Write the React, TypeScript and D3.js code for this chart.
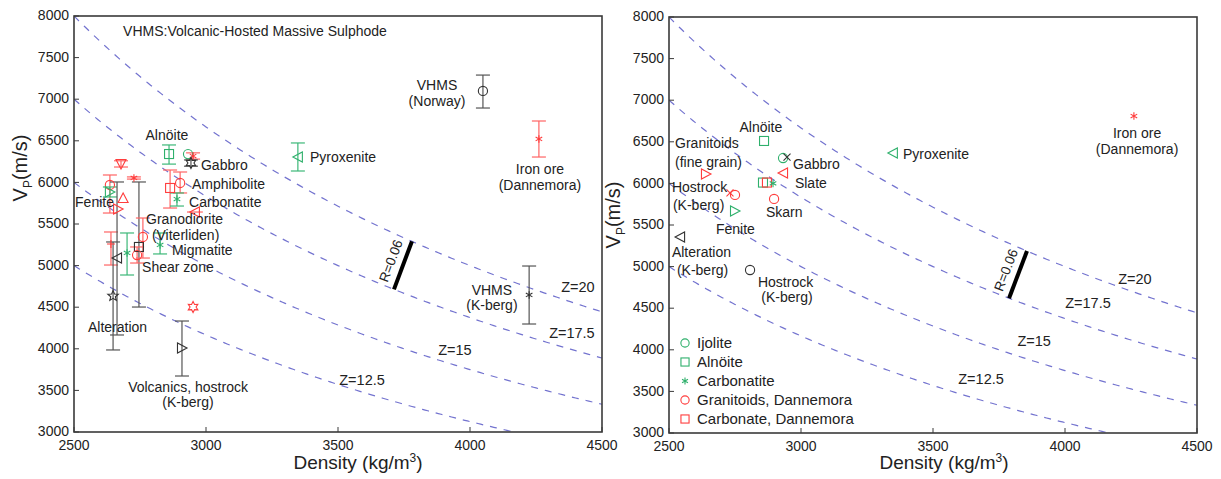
import React from "react";
import * as d3 from "d3";

const DENSITY_DOMAIN: [number, number] = [2500, 4500];
const VP_DOMAIN: [number, number] = [3000, 8000];
const xTicks = [2500, 3000, 3500, 4000, 4500];
const yTicks = [3000, 3500, 4000, 4500, 5000, 5500, 6000, 6500, 7000, 7500, 8000];
const zValues = [12.5, 15, 17.5, 20];

type Sample = { rho: number; vp: number; lo?: number; hi?: number; rhoErr?: number; group: string; marker: string };

// Left panel: laboratory / field samples with Vp error ranges
const leftSamples: Sample[] = [
  { rho: 2860, vp: 6341, lo: 6220, hi: 6450, group: "green", marker: "square" },
  { rho: 2932, vp: 6340, group: "green", marker: "circle" },
  { rho: 2951, vp: 6317, lo: 6280, hi: 6355, group: "red", marker: "asterisk" },
  { rho: 2943, vp: 6233, lo: 6195, hi: 6270, group: "black", marker: "hexagram" },
  { rho: 2902, vp: 5993, lo: 5873, hi: 6125, group: "red", marker: "circle" },
  { rho: 2864, vp: 5933, lo: 5692, hi: 6149, group: "red", marker: "square" },
  { rho: 2890, vp: 5800, lo: 5716, hi: 5873, group: "green", marker: "asterisk" },
  { rho: 2958, vp: 5644, rhoErr: 30, group: "red", marker: "triL" },
  { rho: 3348, vp: 6305, lo: 6137, hi: 6474, group: "green", marker: "triL" },
  { rho: 2678, vp: 6221, lo: 6185, hi: 6260, group: "red", marker: "triD" },
  { rho: 2727, vp: 6053, lo: 6040, hi: 6066, group: "red", marker: "asterisk" },
  { rho: 2636, vp: 5969, lo: 5632, hi: 6089, group: "red", marker: "circle" },
  { rho: 2636, vp: 5885, lo: 5825, hi: 5945, group: "green", marker: "triR" },
  { rho: 2686, vp: 5813, group: "red", marker: "triU" },
  { rho: 2667, vp: 5680, group: "red", marker: "triR" },
  { rho: 2640, vp: 5260, lo: 5007, hi: 5404, group: "red", marker: "plus" },
  { rho: 2663, vp: 5091, lo: 4166, hi: 6005, group: "black", marker: "triL" },
  { rho: 2648, vp: 4635, lo: 3986, hi: 5284, group: "black", marker: "pentagram" },
  { rho: 2746, vp: 5224, lo: 4502, hi: 6005, group: "black", marker: "square" },
  { rho: 2761, vp: 5344, lo: 5091, hi: 5572, group: "red", marker: "circle" },
  { rho: 2739, vp: 5127, lo: 5031, hi: 5224, group: "red", marker: "circle" },
  { rho: 2701, vp: 5152, lo: 4887, hi: 5392, group: "green", marker: "asterisk" },
  { rho: 2826, vp: 5248, lo: 5140, hi: 5392, group: "green", marker: "asterisk" },
  { rho: 2909, vp: 4010, lo: 3673, hi: 4334, group: "black", marker: "triR" },
  { rho: 2951, vp: 4502, group: "red", marker: "hexagram" },
  { rho: 4049, vp: 7099, lo: 6894, hi: 7290, group: "black", marker: "circle" },
  { rho: 4261, vp: 6522, lo: 6305, hi: 6738, group: "red", marker: "asterisk" },
  { rho: 4224, vp: 4647, lo: 4298, hi: 4995, group: "black", marker: "asterisk" },
];

// Right panel: borehole log averages
const rightSamples: Sample[] = [
  { rho: 2860, vp: 6510, group: "green", marker: "square" },
  { rho: 2932, vp: 6305, group: "green", marker: "circle" },
  { rho: 2947, vp: 6317, group: "black", marker: "cross" },
  { rho: 2932, vp: 6125, group: "red", marker: "triL" },
  { rho: 2856, vp: 6010, group: "green", marker: "square" },
  { rho: 2871, vp: 6010, group: "red", marker: "square" },
  { rho: 2894, vp: 6000, group: "green", marker: "asterisk" },
  { rho: 2898, vp: 5813, group: "red", marker: "circle" },
  { rho: 2640, vp: 6113, group: "red", marker: "triR" },
  { rho: 2750, vp: 5861, group: "red", marker: "circle" },
  { rho: 2731, vp: 5885, group: "red", marker: "cross" },
  { rho: 2750, vp: 5668, group: "green", marker: "triR" },
  { rho: 2542, vp: 5356, group: "black", marker: "triL" },
  { rho: 2807, vp: 4959, group: "black", marker: "circle" },
  { rho: 3348, vp: 6365, group: "green", marker: "triL" },
  { rho: 4261, vp: 6810, group: "red", marker: "asterisk" },
];

type Label = [string, number, number, "start" | "middle"];

const leftLabels: Label[] = [
  ["Alnöite", 2852, 6570, "middle"],
  ["Gabbro", 2981, 6209, "start"],
  ["Amphibolite", 2947, 5981, "start"],
  ["Carbonatite", 2936, 5764, "start"],
  ["Pyroxenite", 3394, 6305, "start"],
  ["Fenite", 2504, 5764, "start"],
  ["Granodiorite", 2773, 5560, "start"],
  ["(Viterliden)", 2795, 5368, "start"],
  ["Migmatite", 2871, 5188, "start"],
  ["Shear zone", 2758, 4983, "start"],
  ["Alteration", 2553, 4262, "start"],
  ["Volcanics, hostrock", 2932, 3541, "middle"],
  ["(K-berg)", 2932, 3361, "middle"],
  ["VHMS", 3875, 7171, "middle"],
  ["(Norway)", 3875, 6978, "middle"],
  ["Iron ore", 4265, 6161, "middle"],
  ["(Dannemora)", 4265, 5969, "middle"],
  ["VHMS", 4083, 4707, "middle"],
  ["(K-berg)", 4083, 4527, "middle"],
];

const noteText = "VHMS:Volcanic-Hosted Massive Sulphode";
const notePos = [2686, 7820];

const rightLabels: Label[] = [
  ["Alnöite", 2848, 6678, "middle"],
  ["Granitoids", 2523, 6486, "start"],
  ["(fine grain)", 2523, 6257, "start"],
  ["Gabbro", 2970, 6233, "start"],
  ["Slate", 2977, 6005, "start"],
  ["Hostrock", 2511, 5957, "start"],
  ["(K-berg)", 2515, 5740, "start"],
  ["Skarn", 2867, 5656, "start"],
  ["Fenite", 2678, 5452, "start"],
  ["Alteration", 2511, 5176, "start"],
  ["(K-berg)", 2530, 4959, "start"],
  ["Hostrock", 2837, 4815, "start"],
  ["(K-berg)", 2947, 4635, "middle"],
  ["Pyroxenite", 3386, 6353, "start"],
  ["Iron ore", 4273, 6606, "middle"],
  ["(Dannemora)", 4273, 6413, "middle"],
];

const leftZLabels: Label[] = [
  ["Z=20", 4409, 4743, "middle"],
  ["Z=17.5", 4386, 4190, "middle"],
  ["Z=15", 3943, 3986, "middle"],
  ["Z=12.5", 3591, 3625, "middle"],
];
const rightZLabels: Label[] = [
  ["Z=20", 4265, 4851, "middle"],
  ["Z=17.5", 4087, 4562, "middle"],
  ["Z=15", 3883, 4106, "middle"],
  ["Z=12.5", 3682, 3649, "middle"],
];

// R=0.06 bar between Z=20 and Z=17.5 contours (density of ends)
const leftRBar = { top: 3780, bottom: 3712 };
const rightRBar = { top: 3856, bottom: 3788 };

const legendItems = [
  { label: "Ijolite", group: "green", marker: "circle" },
  { label: "Alnöite", group: "green", marker: "square" },
  { label: "Carbonatite", group: "green", marker: "asterisk" },
  { label: "Granitoids, Dannemora", group: "red", marker: "circle" },
  { label: "Carbonate, Dannemora", group: "red", marker: "square" },
];

const COLORS: Record<string, string> = { green: "#2fb06c", red: "#ff3d3d", black: "#333333" };
const BAR_COLORS: Record<string, string> = { green: "#3cb878", red: "#ff6464", black: "#555555" };
const FONT = "'Liberation Sans', Arial, Helvetica, sans-serif";

function starPoints(cx: number, cy: number, n: number, ro: number, ri: number) {
  const pts: string[] = [];
  for (let i = 0; i < 2 * n; i++) {
    const r = i % 2 === 0 ? ro : ri;
    const a = -Math.PI / 2 + (i * Math.PI) / n;
    pts.push(`${cx + r * Math.cos(a)},${cy + r * Math.sin(a)}`);
  }
  return pts.join(" ");
}

function Marker({ cx, cy, marker, color, s = 1 }: { cx: number; cy: number; marker: string; color: string; s?: number }) {
  const common = { fill: "none", stroke: color, strokeWidth: 1.1 };
  const k = s;
  switch (marker) {
    case "circle":
      return <circle cx={cx} cy={cy} r={4.6 * k} {...common} />;
    case "square":
      return <rect x={cx - 4.5 * k} y={cy - 4.5 * k} width={9 * k} height={9 * k} {...common} />;
    case "triL":
      return <polygon points={`${cx - 5 * k},${cy} ${cx + 4.5 * k},${cy - 5 * k} ${cx + 4.5 * k},${cy + 5 * k}`} {...common} />;
    case "triR":
      return <polygon points={`${cx + 5 * k},${cy} ${cx - 4.5 * k},${cy - 5 * k} ${cx - 4.5 * k},${cy + 5 * k}`} {...common} />;
    case "triU":
      return <polygon points={`${cx},${cy - 5 * k} ${cx - 5 * k},${cy + 4.5 * k} ${cx + 5 * k},${cy + 4.5 * k}`} {...common} />;
    case "triD":
      return <polygon points={`${cx},${cy + 5 * k} ${cx - 5 * k},${cy - 4.5 * k} ${cx + 5 * k},${cy - 4.5 * k}`} {...common} />;
    case "plus":
      return <path d={`M${cx - 4 * k},${cy}H${cx + 4 * k}M${cx},${cy - 4 * k}V${cy + 4 * k}`} {...common} />;
    case "cross":
      return <path d={`M${cx - 3.5 * k},${cy - 3.5 * k}L${cx + 3.5 * k},${cy + 3.5 * k}M${cx - 3.5 * k},${cy + 3.5 * k}L${cx + 3.5 * k},${cy - 3.5 * k}`} {...common} />;
    case "asterisk": {
      const r = 3.8 * k;
      const d = [0, 60, 120]
        .map((deg) => {
          const a = ((deg + 90) * Math.PI) / 180;
          return `M${cx - r * Math.cos(a)},${cy - r * Math.sin(a)}L${cx + r * Math.cos(a)},${cy + r * Math.sin(a)}`;
        })
        .join("");
      return <path d={d} {...common} />;
    }
    case "hexagram":
      return <polygon points={starPoints(cx, cy, 6, 5.5 * k, 3 * k)} {...common} />;
    case "pentagram":
      return <polygon points={starPoints(cx, cy, 5, 5.5 * k, 2.4 * k)} {...common} />;
    default:
      return null;
  }
}

type PanelProps = {
  xr: [number, number];
  yr: [number, number];
  samples: Sample[];
  labels: Label[];
  zLabels: Label[];
  rBar: { top: number; bottom: number };
  legend?: boolean;
  note?: boolean;
  ylabPos: [number, number];
  xlabX: number;
  id: string;
};

function Panel({ xr, yr, samples, labels, zLabels, rBar, legend, note, ylabPos, xlabX, id }: PanelProps) {
  const x = d3.scaleLinear().domain(DENSITY_DOMAIN).range(xr);
  const y = d3.scaleLinear().domain(VP_DOMAIN).range(yr);
  const rhoGrid = d3.range(DENSITY_DOMAIN[0], DENSITY_DOMAIN[1] + 1, 10);
  const clipId = `clip-${id}`;

  const bx1 = x(rBar.top), by1 = y((20 * 1e6) / rBar.top);
  const bx2 = x(rBar.bottom), by2 = y((17.5 * 1e6) / rBar.bottom);
  const len = Math.hypot(bx1 - bx2, by1 - by2);
  const ux = (bx1 - bx2) / len, uy = (by1 - by2) / len;
  const ang = (Math.atan2(uy, ux) * 180) / Math.PI;
  const lx = (bx1 + bx2) / 2 + 13 * uy;
  const ly = (by1 + by2) / 2 - 13 * ux;

  return (
    <g>
      <defs>
        <clipPath id={clipId}>
          <rect x={xr[0]} y={yr[1]} width={xr[1] - xr[0]} height={yr[0] - yr[1]} />
        </clipPath>
      </defs>
      <g clipPath={`url(#${clipId})`}>
        {zValues.map((z) => {
          const line = d3
            .line<number>()
            .x((r) => x(r))
            .y((r) => y((z * 1e6) / r));
          return <path key={z} d={line(rhoGrid) || ""} fill="none" stroke="#7373cf" strokeWidth={1.2} strokeDasharray="7,7" />;
        })}
      </g>
      {/* frame */}
      <rect x={xr[0]} y={yr[1]} width={xr[1] - xr[0]} height={yr[0] - yr[1]} fill="none" stroke="#3a3a3a" strokeWidth={1.6} />
      {xTicks.map((t) => (
        <g key={`xt${t}`}>
          <line x1={x(t)} x2={x(t)} y1={yr[0]} y2={yr[0] - 5} stroke="#3a3a3a" strokeWidth={1} />
          <text x={x(t)} y={yr[0] + 18} textAnchor="middle" fontFamily={FONT} fontSize={14} fill="#222">
            {t}
          </text>
        </g>
      ))}
      {yTicks.map((t) => (
        <g key={`yt${t}`}>
          <line x1={xr[0]} x2={xr[0] + 5} y1={y(t)} y2={y(t)} stroke="#3a3a3a" strokeWidth={1} />
          <text x={xr[0] - 5} y={y(t)} dy="0.3em" textAnchor="end" fontFamily={FONT} fontSize={14} fill="#222">
            {t}
          </text>
        </g>
      ))}
      {/* axis titles */}
      <text x={xlabX} y={469} textAnchor="middle" fontFamily={FONT} fontSize={19} fill="#222">
        Density (kg/m
        <tspan dy={-7} fontSize={12}>3</tspan>
        <tspan dy={7}>)</tspan>
      </text>
      <text transform={`translate(${ylabPos[0]},${ylabPos[1]}) rotate(-90)`} textAnchor="middle" fontFamily={FONT} fontSize={20} fill="#222">
        V<tspan dy={5} fontSize={12}>P</tspan>
        <tspan dy={-5}>(m/s)</tspan>
      </text>
      {/* R bar */}
      <line x1={bx1} y1={by1} x2={bx2} y2={by2} stroke="#000" strokeWidth={4} />
      <text transform={`translate(${lx},${ly}) rotate(${ang})`} textAnchor="middle" dy="0.35em" fontFamily={FONT} fontSize={13.5} fill="#222">
        R=0.06
      </text>
      {zLabels.map(([t, r, v, a], i) => (
        <text key={`z${i}`} x={x(r)} y={y(v)} dy="0.35em" textAnchor={a} fontFamily={FONT} fontSize={14.5} fill="#222">
          {t}
        </text>
      ))}
      {/* error bars */}
      {samples.map((s, i) => {
        const cx = x(s.rho);
        const col = BAR_COLORS[s.group];
        const parts: JSX.Element[] = [];
        if (s.lo !== undefined && s.hi !== undefined) {
          const y1 = y(s.hi), y2 = y(s.lo);
          parts.push(<line key="v" x1={cx} x2={cx} y1={y1} y2={y2} stroke={col} strokeWidth={1.2} />);
          parts.push(<line key="c1" x1={cx - 7} x2={cx + 7} y1={y1} y2={y1} stroke={col} strokeWidth={1.2} />);
          parts.push(<line key="c2" x1={cx - 7} x2={cx + 7} y1={y2} y2={y2} stroke={col} strokeWidth={1.2} />);
        }
        if (s.rhoErr) {
          parts.push(
            <line key="h" x1={x(s.rho - s.rhoErr)} x2={x(s.rho + s.rhoErr)} y1={y(s.vp)} y2={y(s.vp)} stroke={col} strokeWidth={1.2} />
          );
        }
        return <g key={`e${i}`}>{parts}</g>;
      })}
      {samples.map((s, i) => (
        <Marker key={`m${i}`} cx={x(s.rho)} cy={y(s.vp)} marker={s.marker} color={COLORS[s.group]} />
      ))}
      {labels.map(([t, r, v, a], i) => (
        <text key={`l${i}`} x={x(r)} y={y(v)} dy="0.35em" textAnchor={a} fontFamily={FONT} fontSize={14} fill="#222">
          {t}
        </text>
      ))}
      {note && (
        <text x={x(notePos[0])} y={y(notePos[1])} dy="0.35em" fontFamily={FONT} fontSize={14} fill="#222">
          {noteText}
        </text>
      )}
      {legend &&
        legendItems.map((it, i) => (
          <g key={`lg${i}`}>
            <Marker cx={xr[0] + 16} cy={343 + i * 19} marker={it.marker} color={COLORS[it.group]} s={0.9} />
            <text x={xr[0] + 28} y={343 + i * 19} dy="0.35em" fontFamily={FONT} fontSize={15} fill="#222">
              {it.label}
            </text>
          </g>
        ))}
    </g>
  );
}

export default function App() {
  return (
    <svg width={1221} height={479} style={{ position: "absolute", left: 0, top: 0, background: "#fff" }}>
      <rect width={1221} height={479} fill="#fff" />
      <Panel id="left" xr={[74, 602]} yr={[432, 16]} samples={leftSamples} labels={leftLabels} zLabels={leftZLabels} rBar={leftRBar} note ylabPos={[27, 168]} xlabX={358} />
      <Panel id="right" xr={[669, 1197]} yr={[433, 17]} samples={rightSamples} labels={rightLabels} zLabels={rightZLabels} rBar={rightRBar} legend ylabPos={[620, 215]} xlabX={944} />
    </svg>
  );
}
